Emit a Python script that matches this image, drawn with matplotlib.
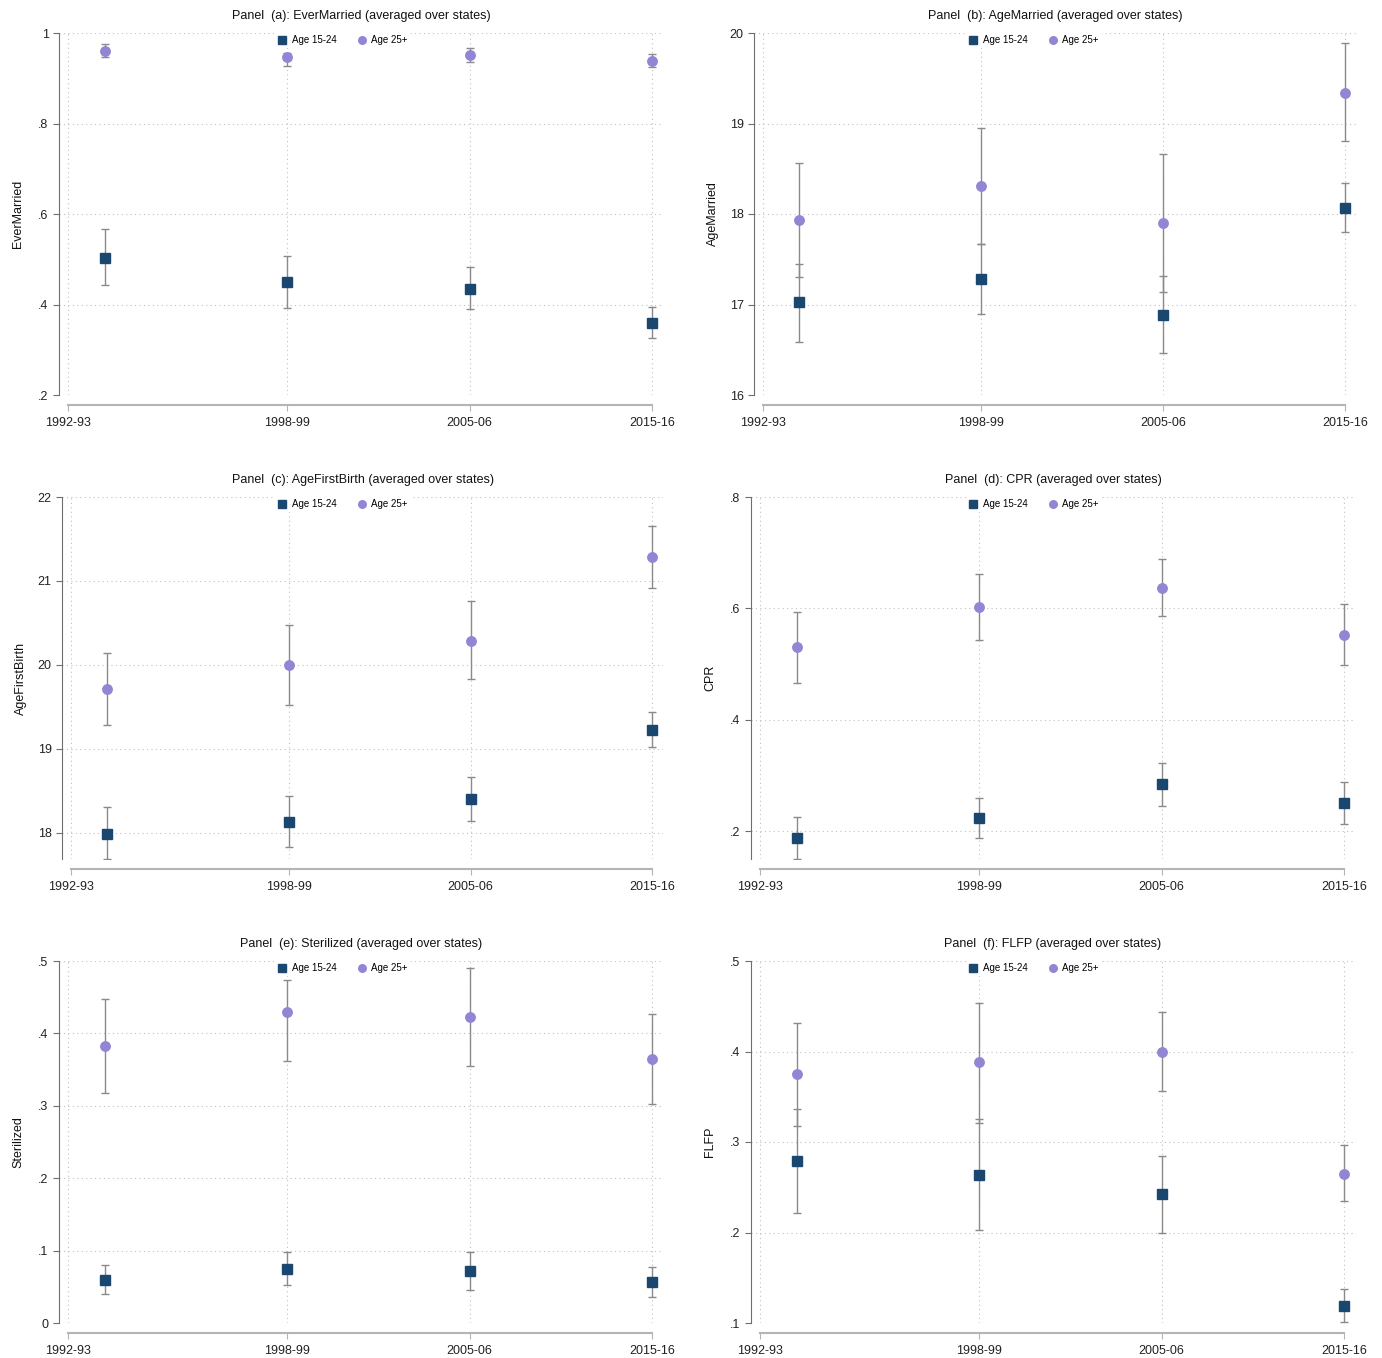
import matplotlib
matplotlib.use("Agg")
import matplotlib.pyplot as plt
from matplotlib.ticker import FuncFormatter

plt.rcParams['font.family'] = ['Liberation Sans', 'DejaVu Sans']

rounds = [1, 2, 3, 4]
round_ticks = [0.8, 2, 3, 4]
round_labels = ["1992-93", "1998-99", "2005-06", "2015-16"]

# Panel (a) EverMarried
ever_young = [0.503, 0.450, 0.435, 0.360]
ever_young_lo = [0.442, 0.393, 0.390, 0.327]
ever_young_hi = [0.567, 0.508, 0.483, 0.395]
ever_old = [0.961, 0.947, 0.951, 0.939]
ever_old_lo = [0.948, 0.928, 0.935, 0.925]
ever_old_hi = [0.976, 0.956, 0.967, 0.954]

# Panel (b) AgeMarried
agem_young = [17.03, 17.28, 16.88, 18.07]
agem_young_lo = [16.59, 16.90, 16.46, 17.80]
agem_young_hi = [17.45, 17.67, 17.31, 18.34]
agem_old = [17.93, 18.31, 17.90, 19.34]
agem_old_lo = [17.30, 17.67, 17.14, 18.81]
agem_old_hi = [18.56, 18.95, 18.66, 19.89]

# Panel (c) AgeFirstBirth
afb_young = [17.99, 18.13, 18.40, 19.23]
afb_young_lo = [17.69, 17.83, 18.14, 19.02]
afb_young_hi = [18.31, 18.44, 18.67, 19.44]
afb_old = [19.71, 20.00, 20.29, 21.29]
afb_old_lo = [19.29, 19.52, 19.83, 20.92]
afb_old_hi = [20.14, 20.48, 20.76, 21.65]

# Panel (d) CPR
cpr_young = [0.187, 0.223, 0.284, 0.250]
cpr_young_lo = [0.150, 0.187, 0.245, 0.212]
cpr_young_hi = [0.225, 0.260, 0.323, 0.289]
cpr_old = [0.530, 0.603, 0.637, 0.553]
cpr_old_lo = [0.466, 0.544, 0.586, 0.499]
cpr_old_hi = [0.594, 0.662, 0.688, 0.607]

# Panel (e) Sterilized
ster_young = [0.060, 0.075, 0.072, 0.057]
ster_young_lo = [0.040, 0.052, 0.046, 0.036]
ster_young_hi = [0.080, 0.098, 0.098, 0.077]
ster_old = [0.382, 0.429, 0.423, 0.365]
ster_old_lo = [0.317, 0.362, 0.355, 0.302]
ster_old_hi = [0.447, 0.474, 0.491, 0.427]

# Panel (f) FLFP
flfp_young = [0.279, 0.264, 0.242, 0.119]
flfp_young_lo = [0.222, 0.203, 0.199, 0.101]
flfp_young_hi = [0.337, 0.325, 0.285, 0.138]
flfp_old = [0.375, 0.388, 0.400, 0.265]
flfp_old_lo = [0.318, 0.321, 0.356, 0.235]
flfp_old_hi = [0.431, 0.454, 0.444, 0.297]

W, H = 1382, 1358
navy = "#1a476f"
lav = "#9086d4"
bar_col = "#8a8a8a"


def stata_fmt(v, pos):
    s = "%g" % round(v, 6)
    if s.startswith("0."):
        s = s[1:]
    return s


panels = [
    # title, ylabel, data, yticks, ylim, pixel box (left, right, top, bottom)
    ("Panel  (a): EverMarried (averaged over states)", "EverMarried",
     (ever_young, ever_young_lo, ever_young_hi, ever_old, ever_old_lo, ever_old_hi),
     [0.2, 0.4, 0.6, 0.8, 1.0], (0.2, 1.0), (59, 663, 33, 395)),
    ("Panel  (b): AgeMarried (averaged over states)", "AgeMarried",
     (agem_young, agem_young_lo, agem_young_hi, agem_old, agem_old_lo, agem_old_hi),
     [16, 17, 18, 19, 20], (16, 20), (754, 1356, 33, 395)),
    ("Panel  (c): AgeFirstBirth (averaged over states)", "AgeFirstBirth",
     (afb_young, afb_young_lo, afb_young_hi, afb_old, afb_old_lo, afb_old_hi),
     [18, 19, 20, 21, 22], (17.69, 22), (62, 663, 497, 859)),
    ("Panel  (d): CPR (averaged over states)", "CPR",
     (cpr_young, cpr_young_lo, cpr_young_hi, cpr_old, cpr_old_lo, cpr_old_hi),
     [0.2, 0.4, 0.6, 0.8], (0.15, 0.8), (751, 1355, 497, 859)),
    ("Panel  (e): Sterilized (averaged over states)", "Sterilized",
     (ster_young, ster_young_lo, ster_young_hi, ster_old, ster_old_lo, ster_old_hi),
     [0, 0.1, 0.2, 0.3, 0.4, 0.5], (0, 0.5), (59, 663, 961, 1323)),
    ("Panel  (f): FLFP (averaged over states)", "FLFP",
     (flfp_young, flfp_young_lo, flfp_young_hi, flfp_old, flfp_old_lo, flfp_old_hi),
     [0.1, 0.2, 0.3, 0.4, 0.5], (0.1, 0.5), (751, 1355, 961, 1323)),
]

fig = plt.figure(figsize=(W / 100, H / 100), dpi=100)

for title, ylab, data, yticks, ylim, box in panels:
    l, r, t, b = box
    ax = fig.add_axes([l / W, 1 - b / H, (r - l) / W, (b - t) / H])
    yy, yy_lo, yy_hi, yo, yo_lo, yo_hi = data

    for m, lo, hi, col, mk, lab in [(yy, yy_lo, yy_hi, navy, "s", "Age 15-24"),
                                     (yo, yo_lo, yo_hi, lav, "o", "Age 25+")]:
        err = [[v - a for v, a in zip(m, lo)], [c - v for v, c in zip(m, hi)]]
        ax.errorbar(rounds, m, yerr=err, fmt="none", ecolor=bar_col,
                    elinewidth=1.0, capsize=3.2, capthick=1.0, zorder=2)
        ax.plot(rounds, m, linestyle="none", marker=mk, markersize=6.8,
                color=col, label=lab, zorder=3)

    ax.set_xlim(0.75, 4.06)
    ax.set_ylim(*ylim)
    ax.set_xticks(round_ticks)
    ax.set_xticklabels(round_labels)
    ax.set_yticks(yticks)
    ax.yaxis.set_major_formatter(FuncFormatter(stata_fmt))
    ax.grid(True, linestyle=(0, (1, 3)), color="#c0c0c0", linewidth=0.8)
    ax.set_axisbelow(True)

    for s in ["top", "right"]:
        ax.spines[s].set_visible(False)
    ax.spines["bottom"].set_position(("outward", 7))
    ax.spines["bottom"].set_bounds(0.8, 4)
    ax.spines["bottom"].set_color("#b4b4b4")
    ax.spines["bottom"].set_linewidth(1.5)
    ax.spines["left"].set_color("#6e6e6e")
    ax.spines["left"].set_linewidth(0.8)

    ax.tick_params(axis="both", direction="out", length=4.5, width=0.8,
                   labelsize=9, colors="#222222", pad=3)
    ax.tick_params(axis="x", color="#b4b4b4", pad=4.5)
    ax.tick_params(axis="y", color="#6e6e6e")

    ax.set_title(title, fontsize=9, pad=10, color="#111111")
    ax.set_ylabel(ylab, fontsize=9, color="#111111")
    ax.yaxis.set_label_coords(-35 / (r - l), 0.5)

    # legend centred on the panel's half of the figure
    half_left = 0 if l < 700 else 691
    leg_cx = (half_left + 343 - l) / (r - l)
    leg = ax.legend(loc="center", bbox_to_anchor=(leg_cx, 1 - 7 / (b - t)),
                    ncol=2, fontsize=7, frameon=True, handlelength=0.8,
                    handletextpad=0.6, columnspacing=2.2, borderpad=0.3,
                    markerscale=0.8)
    leg.get_frame().set_facecolor("white")
    leg.get_frame().set_edgecolor("none")
    leg.get_frame().set_alpha(1)
    leg.set_zorder(5)

fig.savefig("out.png", dpi=100, facecolor="white")
